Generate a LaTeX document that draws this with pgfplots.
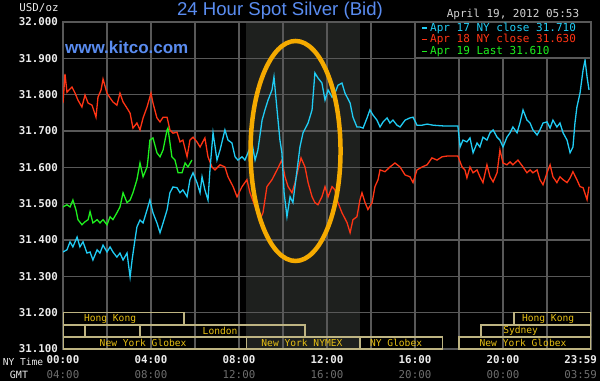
\documentclass[border=0pt]{standalone}
\usepackage{pgfplots}
\pgfplotsset{compat=1.18}
\usepackage{fontspec}
\setmainfont{Liberation Sans}
\newfontfamily\mono{DejaVu Sans Mono}
\definecolor{titleblue}{RGB}{90,140,240}
\definecolor{cyanline}{RGB}{32,204,244}
\definecolor{redline}{RGB}{255,52,20}
\definecolor{greenline}{RGB}{30,240,30}
\definecolor{ringorange}{RGB}{245,170,0}
\definecolor{gridgray}{RGB}{88,88,88}
\definecolor{shadegray}{RGB}{30,32,30}
\definecolor{sesstext}{RGB}{232,192,20}
\definecolor{sessbox}{RGB}{190,180,130}
\definecolor{tickwhite}{RGB}{235,235,235}
\definecolor{gmtgray}{RGB}{110,110,110}
\definecolor{dategray}{RGB}{210,210,210}
\begin{document}
\begin{tikzpicture}
\fill[black] (0,0) rectangle (600pt,381pt);
% NYMEX floor hours 08:20-13:30 shading
\fill[shadegray] (246.3pt,32pt) rectangle (360pt,359pt);
\begin{axis}[
  at={(63pt,32pt)}, anchor=south west, scale only axis,
  width=528pt, height=327pt,
  xmin=0, xmax=24, ymin=31.1, ymax=32.0,
  axis line style={gridgray, line width=1.2pt},
  grid=both,
  major grid style={gridgray, line width=1.2pt},
  minor grid style={gridgray, line width=1.2pt},
  major tick length=0pt, minor tick length=0pt,
  xtick={0,4,8,12,16,20},
  minor xtick={2,6,10,14,18,22},
  xticklabels={{\bfseries 00:00\\{\mdseries\color{gmtgray}04:00}},{\bfseries 04:00\\{\mdseries\color{gmtgray}08:00}},{\bfseries 08:00\\{\mdseries\color{gmtgray}12:00}},{\bfseries 12:00\\{\mdseries\color{gmtgray}16:00}},{\bfseries 16:00\\{\mdseries\color{gmtgray}20:00}},{\bfseries 20:00\\{\mdseries\color{gmtgray}00:00}}},
  extra x ticks={23.983},
  extra x tick labels={{\bfseries 23:59\\{\mdseries\color{gmtgray}03:59}}},
  extra x tick style={xticklabel style={xshift=-10pt}, grid=none},
  xticklabel style={inner sep=0pt, yshift=-6pt, align=center, text=tickwhite, font=\fontsize{10.8}{15}\selectfont\mono},
  ytick={31.1,31.2,31.3,31.4,31.5,31.6,31.7,31.8,31.9,32.0},
  yticklabels={31.100,31.200,31.300,31.400,31.500,31.600,31.700,31.800,31.900,32.000},
  yticklabel style={inner sep=0pt, xshift=-5pt, text=tickwhite, font=\fontsize{10.8}{13}\selectfont\mono\bfseries},
]
% session boxes
\begin{scope}[draw=sessbox, line width=1.2pt]
\draw (axis cs:0,31.166) rectangle (axis cs:5.5,31.2);
\draw (axis cs:20.5,31.166) rectangle (axis cs:24,31.2);
\draw (axis cs:0,31.133) rectangle (axis cs:1,31.166);
\draw (axis cs:3.5,31.133) rectangle (axis cs:11,31.166);
\draw (axis cs:19,31.133) rectangle (axis cs:24,31.166);
\draw (axis cs:0,31.1) rectangle (axis cs:8.33,31.133);
\draw (axis cs:8.33,31.1) rectangle (axis cs:13.5,31.133);
\draw (axis cs:13.5,31.1) rectangle (axis cs:17.25,31.133);
\draw (axis cs:18,31.1) rectangle (axis cs:24,31.133);
\end{scope}
\begin{scope}[every node/.style={text=sesstext, font=\fontsize{9.6}{11}\selectfont\mono, inner sep=0pt}]
\node at (axis cs:2.14,31.183) {Hong Kong};
\node at (axis cs:22.05,31.183) {Hong Kong};
\node at (axis cs:7.14,31.1495) {London};
\node at (axis cs:20.8,31.1495) {Sydney};
\node at (axis cs:3.64,31.1165) {New York Globex};
\node at (axis cs:10.86,31.1165) {New York NYMEX};
\node at (axis cs:15.14,31.1165) {NY Globex};
\node at (axis cs:20.91,31.1165) {New York Globex};
\end{scope}

% Apr 18 (red)
\addplot[redline, line width=1.3pt] coordinates {
(0,31.777)(0.09,31.857)(0.18,31.807)(0.41,31.821)(0.55,31.804)(0.68,31.785)(0.86,31.766)(1.00,31.799)(1.14,31.777)(1.32,31.771)(1.50,31.738)(1.59,31.793)(1.73,31.813)(1.82,31.843)(2.00,31.804)(2.14,31.791)(2.27,31.780)(2.45,31.771)(2.59,31.804)(2.73,31.780)(2.91,31.763)(3.05,31.749)(3.18,31.708)(3.36,31.722)(3.50,31.703)(3.64,31.736)(3.82,31.766)(4.00,31.804)(4.09,31.777)(4.27,31.736)(4.41,31.725)(4.55,31.738)(4.73,31.738)(4.86,31.703)(5.00,31.694)(5.18,31.697)(5.32,31.670)(5.45,31.675)(5.64,31.629)(5.77,31.675)(5.91,31.683)(6.09,31.670)(6.23,31.656)(6.45,31.681)(6.59,31.629)(6.77,31.601)(6.91,31.593)(7.14,31.607)(7.36,31.601)(7.50,31.574)(7.73,31.547)(7.91,31.519)(8.14,31.547)(8.36,31.566)(8.50,31.530)(8.73,31.492)(8.95,31.456)(9.09,31.475)(9.27,31.547)(9.50,31.566)(9.73,31.593)(9.95,31.620)(10.09,31.574)(10.23,31.547)(10.41,31.530)(10.55,31.558)(10.68,31.593)(10.82,31.626)(11.00,31.601)(11.14,31.558)(11.32,31.519)(11.45,31.503)(11.59,31.497)(11.77,31.519)(11.91,31.547)(12.05,31.519)(12.23,31.547)(12.36,31.538)(12.45,31.511)(12.68,31.475)(12.91,31.448)(13.05,31.420)(13.18,31.456)(13.36,31.464)(13.50,31.511)(13.59,31.530)(13.73,31.503)(13.86,31.484)(14.05,31.503)(14.18,31.547)(14.32,31.566)(14.41,31.593)(14.64,31.588)(14.86,31.601)(15.09,31.612)(15.32,31.601)(15.55,31.579)(15.77,31.574)(15.91,31.558)(16.09,31.593)(16.32,31.601)(16.55,31.607)(16.77,31.626)(17.00,31.620)(17.23,31.629)(17.45,31.631)(17.73,31.631)(17.95,31.631)(18.14,31.601)(18.27,31.593)(18.36,31.571)(18.50,31.601)(18.64,31.585)(18.82,31.593)(18.95,31.574)(19.09,31.558)(19.27,31.607)(19.41,31.574)(19.55,31.560)(19.73,31.585)(19.86,31.648)(20.00,31.612)(20.18,31.607)(20.32,31.615)(20.45,31.607)(20.68,31.620)(20.91,31.601)(21.09,31.585)(21.23,31.593)(21.36,31.585)(21.55,31.593)(21.68,31.566)(21.82,31.552)(22.00,31.585)(22.14,31.607)(22.27,31.574)(22.45,31.558)(22.59,31.574)(22.73,31.566)(22.91,31.558)(23.05,31.571)(23.18,31.588)(23.36,31.566)(23.50,31.547)(23.64,31.544)(23.82,31.511)(23.91,31.547)
};
% Apr 17 (cyan)
\addplot[cyanline, line width=1.3pt] coordinates {
(0,31.367)(0.18,31.373)(0.32,31.395)(0.45,31.381)(0.64,31.408)(0.77,31.381)(0.91,31.395)(1.09,31.364)(1.23,31.367)(1.36,31.345)(1.55,31.373)(1.68,31.364)(1.82,31.386)(2.00,31.367)(2.14,31.381)(2.27,31.367)(2.45,31.353)(2.59,31.364)(2.73,31.345)(2.91,31.364)(3.05,31.298)(3.14,31.345)(3.27,31.400)(3.36,31.436)(3.50,31.455)(3.64,31.447)(3.82,31.483)(3.95,31.510)(4.09,31.475)(4.27,31.447)(4.41,31.420)(4.55,31.447)(4.73,31.483)(4.86,31.530)(5.00,31.546)(5.18,31.544)(5.32,31.530)(5.45,31.538)(5.64,31.519)(5.77,31.566)(5.91,31.585)(6.09,31.558)(6.23,31.530)(6.32,31.574)(6.45,31.538)(6.59,31.510)(6.68,31.593)(6.82,31.695)(7.00,31.620)(7.14,31.648)(7.36,31.703)(7.50,31.675)(7.68,31.667)(7.82,31.629)(7.95,31.620)(8.14,31.629)(8.27,31.620)(8.41,31.640)(8.59,31.667)(8.73,31.620)(8.86,31.648)(9.05,31.730)(9.18,31.758)(9.32,31.785)(9.50,31.813)(9.59,31.849)(9.73,31.758)(9.86,31.675)(9.95,31.640)(10.05,31.530)(10.18,31.464)(10.32,31.519)(10.45,31.503)(10.64,31.593)(10.77,31.656)(10.91,31.695)(11.14,31.722)(11.32,31.758)(11.45,31.860)(11.59,31.846)(11.77,31.832)(11.91,31.785)(12.05,31.813)(12.23,31.793)(12.36,31.804)(12.50,31.826)(12.68,31.832)(12.82,31.804)(13.05,31.777)(13.18,31.738)(13.36,31.711)(13.50,31.711)(13.64,31.708)(13.82,31.736)(13.95,31.758)(14.09,31.744)(14.27,31.730)(14.41,31.711)(14.55,31.725)(14.73,31.736)(14.86,31.722)(15.00,31.730)(15.18,31.716)(15.32,31.711)(15.55,31.730)(15.77,31.736)(15.91,31.738)(16.09,31.716)(16.32,31.716)(16.55,31.719)(16.82,31.716)(17.27,31.714)(17.95,31.714)(18.05,31.656)(18.18,31.675)(18.36,31.670)(18.50,31.681)(18.64,31.640)(18.82,31.667)(18.95,31.656)(19.09,31.683)(19.27,31.675)(19.41,31.695)(19.55,31.703)(19.73,31.683)(19.86,31.675)(20.00,31.656)(20.18,31.683)(20.32,31.695)(20.45,31.711)(20.64,31.695)(20.77,31.722)(20.91,31.758)(21.09,31.730)(21.23,31.722)(21.36,31.703)(21.55,31.689)(21.68,31.703)(21.82,31.722)(22.00,31.725)(22.14,31.708)(22.27,31.730)(22.45,31.711)(22.59,31.722)(22.73,31.695)(22.91,31.675)(23.05,31.640)(23.18,31.656)(23.27,31.722)(23.36,31.766)(23.50,31.804)(23.64,31.868)(23.73,31.895)(23.82,31.849)(23.91,31.813)
};
% Apr 19 (green)
\addplot[greenline, line width=1.3pt] coordinates {
(0,31.491)(0.18,31.497)(0.32,31.491)(0.45,31.510)(0.59,31.483)(0.68,31.456)(0.86,31.442)(1.00,31.450)(1.14,31.456)(1.23,31.478)(1.36,31.447)(1.55,31.456)(1.68,31.447)(1.82,31.456)(2.00,31.442)(2.14,31.464)(2.27,31.456)(2.45,31.475)(2.59,31.491)(2.73,31.530)(2.91,31.503)(3.05,31.510)(3.18,31.530)(3.36,31.566)(3.50,31.612)(3.64,31.574)(3.82,31.601)(3.86,31.620)(3.95,31.675)(4.09,31.681)(4.27,31.640)(4.41,31.629)(4.55,31.648)(4.73,31.703)(4.77,31.708)(4.95,31.629)(5.09,31.620)(5.23,31.585)(5.41,31.585)(5.55,31.612)(5.68,31.601)(5.86,31.620)
};
\draw[ringorange, line width=4.5pt] (axis cs:10.57,31.645) ellipse [x radius=45pt, y radius=110pt];
\end{axis}

% title and texts
\node[text=titleblue, font=\fontsize{18.6}{20}\selectfont, inner sep=0pt] at (280pt,370pt) {24 Hour Spot Silver (Bid)};
\node[text=titleblue, font=\fontsize{17}{19}\selectfont\bfseries, inner sep=0pt, anchor=west] at (65pt,334pt) {www.kitco.com};
\node[text=dategray, font=\fontsize{11}{13}\selectfont\mono, inner sep=0pt] at (513pt,367pt) {April 19, 2012 05:53};
\node[text=tickwhite, font=\fontsize{10.8}{13}\selectfont\mono, inner sep=0pt] at (39pt,373pt) {USD/oz};
\node[text=tickwhite, font=\fontsize{9.6}{12}\selectfont\mono, inner sep=0pt] at (23pt,19pt) {NY Time};
\node[text=tickwhite, font=\fontsize{10}{12}\selectfont\mono, inner sep=0pt] at (19pt,6pt) {GMT};

% legend
\filldraw[fill=black, draw=gridgray, line width=1.2pt] (415pt,323pt) rectangle (591pt,359pt);
\draw[cyanline, line width=1.5pt] (422pt,353pt) -- (427pt,353pt);
\node[text=cyanline, font=\fontsize{11}{13}\selectfont\mono, inner sep=0pt, anchor=west] at (430pt,353pt) {Apr 17 NY close 31.710};
\draw[redline, line width=1.5pt] (422pt,341.5pt) -- (427pt,341.5pt);
\node[text=redline, font=\fontsize{11}{13}\selectfont\mono, inner sep=0pt, anchor=west] at (430pt,341.5pt) {Apr 18 NY close 31.630};
\draw[greenline, line width=1.5pt] (422pt,329.5pt) -- (427pt,329.5pt);
\node[text=greenline, font=\fontsize{11}{13}\selectfont\mono, inner sep=0pt, anchor=west] at (430pt,329.5pt) {Apr 19 Last 31.610};
\pgfresetboundingbox
\path[use as bounding box] (0,0) rectangle (600pt,381pt);
\end{tikzpicture}
\end{document}
